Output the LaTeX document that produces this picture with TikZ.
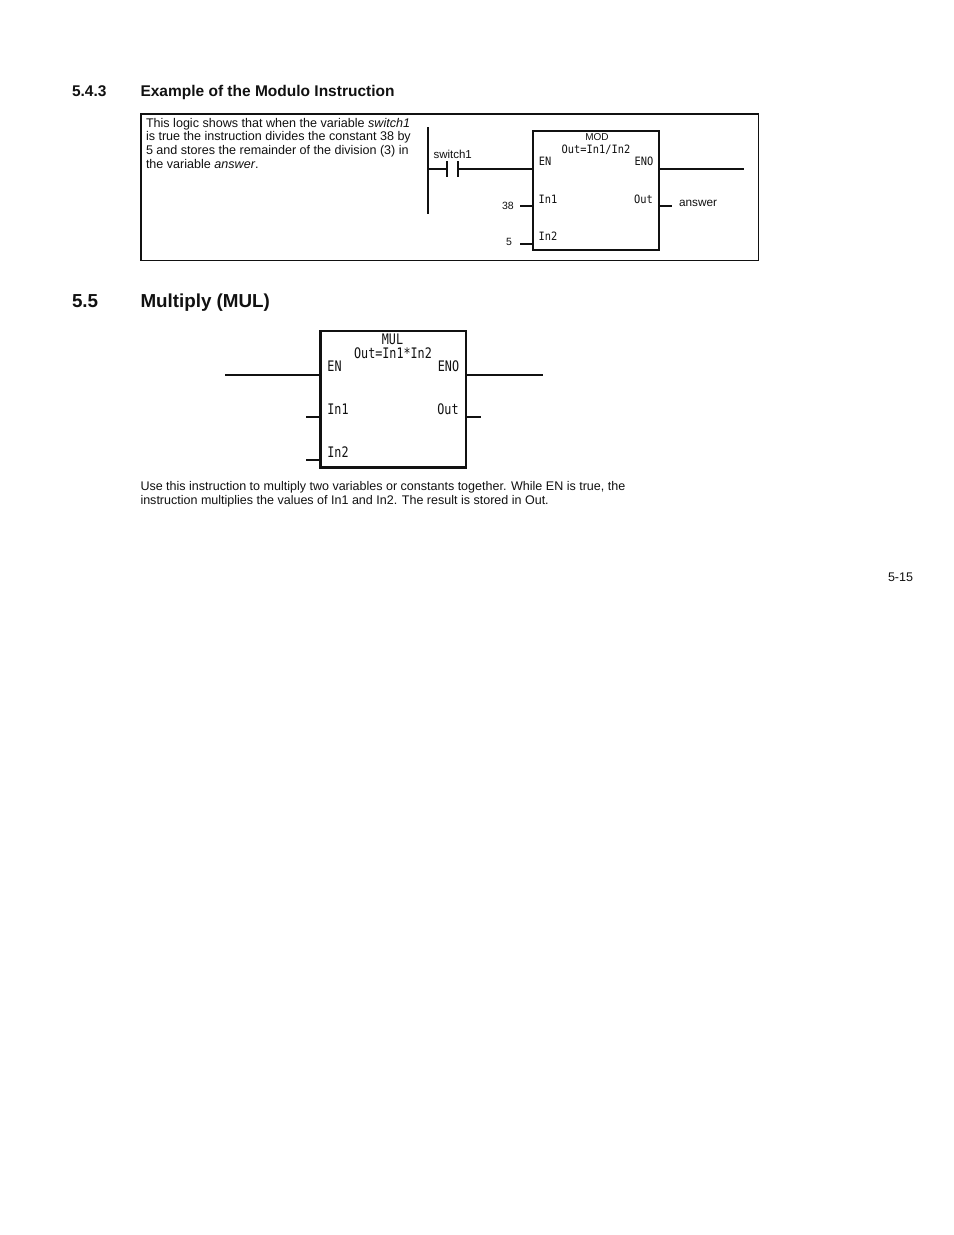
\documentclass[tikz,border=0pt]{standalone}
\usepackage{fontspec}
\setmainfont{Liberation Sans}
\newfontfamily\pinmono[FakeStretch=0.9]{DejaVu Sans Mono}
\newfontfamily\pinmonob[FakeStretch=0.81]{DejaVu Sans Mono}
\definecolor{ink}{HTML}{111111}
\tikzset{
  txt/.style={anchor=base west,inner sep=0pt,outer sep=0pt,text=ink,font=\fontsize{12.52bp}{13.5bp}\selectfont},
  boxtxt/.style={txt,font=\fontsize{12.57bp}{13.5bp}\selectfont},
  head/.style={txt,font=\fontsize{15.5bp}{16bp}\selectfont\bfseries},
  bighead/.style={txt,font=\fontsize{18.8bp}{21bp}\selectfont\bfseries},
  lab/.style={txt,font=\fontsize{10.5bp}{12bp}\selectfont},
  pinA/.style={inner sep=0pt,outer sep=0pt,text=ink,font=\pinmono\fontsize{11.5bp}{12bp}\selectfont},
  pinB/.style={inner sep=0pt,outer sep=0pt,text=ink,font=\pinmonob\fontsize{14.5bp}{15bp}\selectfont},
  wire/.style={draw=ink,line width=2.2bp},
  blk/.style={draw=ink,line width=2.2bp,inner sep=0pt,outer sep=0pt,anchor=north west},
}
\begin{document}
\begin{tikzpicture}[x=1bp,y=-1bp]
\useasboundingbox (0,0) rectangle (954,1235);
\fill[white] (0,0) rectangle (954,1235);
% headings
\node[head] (h1n) at (72,96) {5.4.3};
\node[head] (h1) at (140.5,96) {Example of the Modulo Instruction};
\node[bighead] (h2n) at (72,307.5) {5.5};
\node[bighead] (h2) at (140.5,307.5) {Multiply (MUL)};
% example frame
\node[blk,line width=1.2bp,minimum width=617.5bp,minimum height=146.5bp] (frame) at (141,114) {};
\node[boxtxt] (t1) at (146,127) {This logic shows that when the variable \textit{switch1}};
\node[boxtxt] (t2) at (146,140.5) {is true the instruction divides the constant 38 by};
\node[boxtxt] (t3) at (146,154) {5 and stores the remainder of the division (3) in};
\node[boxtxt] (t4) at (146,168) {the variable \textit{answer}.};
% MOD block
\node[blk,minimum width=126bp,minimum height=119bp] (mod) at (533,131) {};
\coordinate (railT) at (428,127);
\coordinate (railB) at (428,214);
\coordinate (railM) at (428,169);
\coordinate (cL) at (447,169);
\coordinate (cR) at (458,169);
\draw[wire] (railT) -- (railB);
\draw[wire] (railM) -- (cL);
\draw[wire] (cL) ++(0,-8) -- ++(0,16);
\draw[wire] (cR) ++(0,-8) -- ++(0,16);
\draw[wire] (cR) -- (cR -| mod.west);
\coordinate (eno) at (mod.east |- 0,169);
\coordinate (enoE) at (744,169);
\draw[wire] (eno) -- (enoE);
\coordinate (i1) at (mod.west |- 0,206);
\coordinate (i1w) at (520,206);
\draw[wire] (i1w) -- (i1);
\coordinate (i2) at (mod.west |- 0,244);
\coordinate (i2w) at (520,244);
\draw[wire] (i2w) -- (i2);
\coordinate (o1) at (mod.east |- 0,206);
\coordinate (o1e) at (672,206);
\draw[wire] (o1) -- (o1e);
\node[lab,font=\fontsize{11.5bp}{12bp}\selectfont] (sw) at (433.5,158) {switch1};
\node[lab] (c38) at (502,209) {38};
\node[lab] (c5) at (506,245) {5};
\node[lab,font=\fontsize{11.8bp}{12bp}\selectfont] (ans) at (679,206) {answer};
\node[lab,anchor=center,font=\fontsize{10bp}{12bp}\selectfont] (mname) at (597,137.5) {MOD};
\node[pinA] (mf) at (596,150) {Out=In1/In2};
\node[pinA] (men) at (545,161) {EN};
\node[pinA] (meno) at (644,161) {ENO};
\node[pinA] (mi1) at (548,199) {In1};
\node[pinA] (mo) at (643.5,199) {Out};
\node[pinA] (mi2) at (548,236) {In2};
% MUL block
\node[blk,minimum width=145.5bp,minimum height=136.5bp] (mul) at (320.5,331) {};
\coordinate (wl) at (225,375);
\coordinate (wr) at (543,375);
\draw[wire] (wl) -- (wl -| mul.west);
\draw[wire] (wr -| mul.east) -- (wr);
\coordinate (ma) at (306,417);
\coordinate (mb) at (306,460);
\coordinate (mc) at (481,417);
\draw[wire] (ma) -- (ma -| mul.west);
\draw[wire] (mb) -- (mb -| mul.west);
\draw[wire] (mc -| mul.east) -- (mc);
\node[pinB] (un) at (392.5,339.5) {MUL};
\node[pinB] (uf) at (393,353) {Out=In1*In2};
\node[pinB] (uen) at (334.5,366.5) {EN};
\node[pinB] (ueno) at (448.5,366.5) {ENO};
\node[pinB] (ui1) at (338,409.5) {In1};
\node[pinB] (uo) at (448,409.5) {Out};
\node[pinB] (ui2) at (338,452) {In2};
% body
\node[txt] (b1) at (140.5,490) {Use this instruction to multiply two variables or constants together. While EN is true, the};
\node[txt] (b2) at (140.5,504) {instruction multiplies the values of In1 and In2. The result is stored in Out.};
\node[txt] (pg) at (888,581) {5-15};
\end{tikzpicture}
\end{document}
